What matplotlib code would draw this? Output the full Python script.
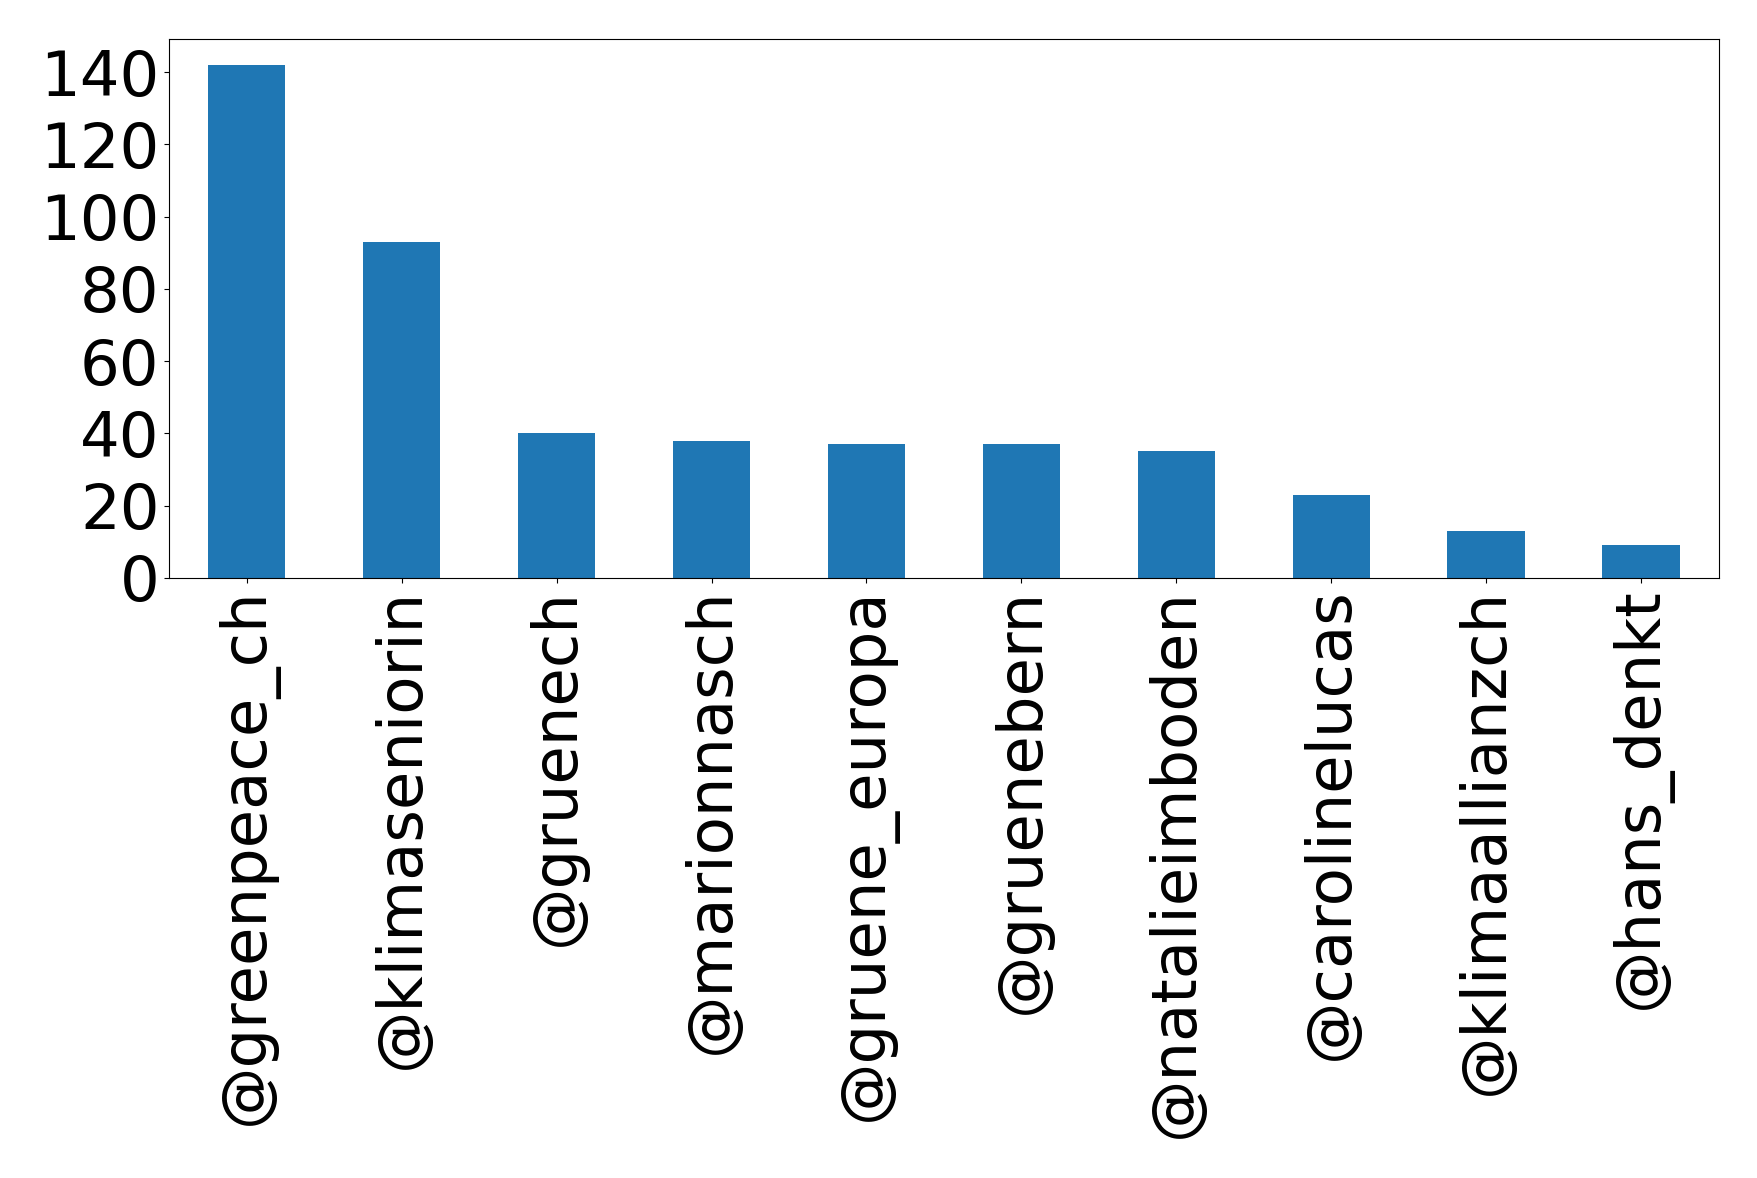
import matplotlib.pyplot as plt
import numpy as np

# accounts and counts
accounts = ['@greenpeace_ch', '@klimaseniorin', '@gruenech', '@marionnasch',
            '@gruene_europa', '@gruenebern', '@natalieimboden', '@carolinelucas',
            '@klimaallianzch', '@hans_denkt']
counts = [142, 93, 40, 38, 37, 37, 35, 23, 13, 9]

plt.rcParams['font.family'] = 'DejaVu Sans'
plt.rcParams['font.size'] = 45

fig = plt.figure(figsize=(17.58, 11.78), dpi=100)
ax = fig.add_axes([0.0963, 0.5094, 0.8813, 0.4572])

x = np.arange(len(accounts))
ax.bar(x, counts, width=0.5, color='#1f77b4')
ax.set_xticks(x)
ax.set_xticklabels(accounts, rotation=90)
ax.set_xlim(-0.5, len(accounts) - 0.5)
ax.set_ylim(0, max(counts) * 1.05)
ax.set_yticks(range(0, 141, 20))

plt.savefig('out.png', dpi=100)
plt.close()
